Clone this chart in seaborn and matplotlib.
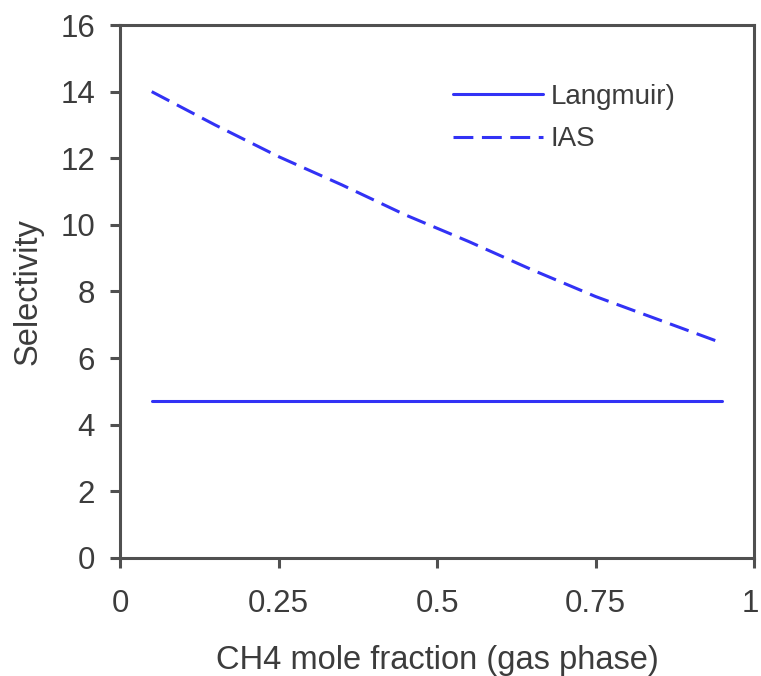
import matplotlib
matplotlib.use("Agg")
import matplotlib.pyplot as plt
import matplotlib.transforms as mtransforms
import seaborn as sns
import pandas as pd

# CH4 mole fraction in the gas phase
x_frac = [0.05, 0.15, 0.25, 0.35, 0.45, 0.55, 0.65, 0.75, 0.85, 0.95]
# Selectivity predicted by each model
sel_langmuir = [4.72, 4.72, 4.72, 4.72, 4.72, 4.72, 4.72, 4.72, 4.72, 4.72]
sel_ias = [14.0, 13.0, 12.05, 11.2, 10.3, 9.5, 8.65, 7.85, 7.15, 6.45]
series_names = ["Langmuir)", "IAS"]
x_ticks = [0, 0.25, 0.5, 0.75, 1]
x_tick_labels = ["0", "0.25", "0.5", "0.75", "1"]
y_ticks = [0, 2, 4, 6, 8, 10, 12, 14, 16]

df = pd.DataFrame({
    "x": x_frac * 2,
    "sel": sel_langmuir + sel_ias,
    "model": [series_names[0]] * len(x_frac) + [series_names[1]] * len(x_frac),
})

sns.set_style("white")
plt.rcParams["font.family"] = ["Liberation Sans", "DejaVu Sans"]

text_color = "#3c3c3c"
spine_color = "#505050"
line_color = "#3232f5"

fig = plt.figure(figsize=(7.61, 6.76), dpi=100)
ax = fig.add_axes([0.1577, 0.1746, 0.8331, 0.7884])

sns.lineplot(
    data=df, x="x", y="sel", style="model", hue="model",
    palette=[line_color, line_color],
    dashes={series_names[0]: "", series_names[1]: (6.5, 2.8)},
    linewidth=2.2, ax=ax,
)

ax.set_xlim(0, 1)
ax.set_ylim(0, 16)
ax.set_xticks(x_ticks)
ax.set_xticklabels(x_tick_labels)
ax.set_yticks(y_ticks)

for side in ["left", "bottom", "right", "top"]:
    ax.spines[side].set_visible(True)
    ax.spines[side].set_color(spine_color)
    ax.spines[side].set_linewidth(2.2)

ax.tick_params(axis="both", which="major", bottom=True, left=True,
               direction="out", length=7, width=2.2,
               color=spine_color, labelsize=22.5, labelcolor=text_color)
ax.tick_params(axis="x", pad=15)
ax.tick_params(axis="y", pad=11)

# keep the last x tick label inside the figure edge
last_label = ax.get_xticklabels()[-1]
last_label.set_transform(last_label.get_transform()
                         + mtransforms.ScaledTranslation(-4 / 100, 0, fig.dpi_scale_trans))

ax.set_xlabel("CH4 mole fraction (gas phase)", fontsize=23.5, color=text_color, labelpad=19)
ax.set_ylabel("Selectivity", fontsize=23.5, color=text_color, labelpad=12)

leg = ax.legend(loc="upper left", bbox_to_anchor=(0.504, 0.916), frameon=False,
                borderpad=0, fontsize=20, handlelength=3.24, handletextpad=0.25,
                labelspacing=0.6)
for t in leg.get_texts():
    t.set_color(text_color)

fig.savefig("out.png", dpi=100)
